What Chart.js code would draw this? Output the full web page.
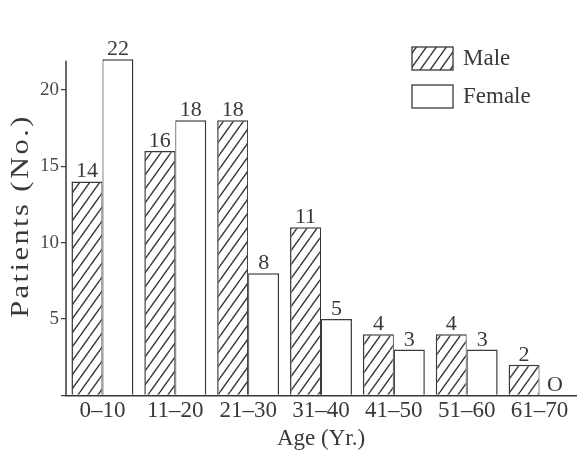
<!DOCTYPE html>
<html>
<head>
<meta charset="utf-8">
<script src="https://cdn.jsdelivr.net/npm/chart.js@4/dist/chart.umd.min.js"></script>
<style>
html, body { margin:0; padding:0; background:#fff; }
</style>
</head>
<body>
<canvas id="ages" width="581" height="452"></canvas>
<script>
var ageGroups = ['0–10','11–20','21–30','31–40','41–50','51–60','61–70']
var male = [14,16,18,11,4,4,2]
var female = [22,18,8,5,3,3,0]
var yTicks = [0,5,10,15,20]

var ink = '#393939'
var serif = '"Liberation Serif", "DejaVu Serif", serif'

// diagonal "/" hatch for the male bars
function hatch(){
  var c = document.createElement('canvas')
  c.width = 10; c.height = 14
  var g = c.getContext('2d')
  g.fillStyle = '#fff'
  g.fillRect(0,0,10,14)
  g.strokeStyle = ink
  g.lineWidth = 1.4
  g.beginPath()
  for (var k = -10; k <= 10; k += 10){
    g.moveTo(k, 14); g.lineTo(k + 10, 0)
  }
  g.stroke()
  return g.createPattern(c, 'repeat')
}
var maleFill = hatch()

var valueLabels = {
  id: 'valueLabels',
  afterDatasetsDraw(chart){
    var ctx = chart.ctx
    ctx.save()
    ctx.font = '22px ' + serif
    ctx.fillStyle = ink
    ctx.textAlign = 'center'
    ctx.textBaseline = 'alphabetic'
    chart.data.datasets.forEach(function(ds, i){
      chart.getDatasetMeta(i).data.forEach(function(bar, j){
        var v = ds.data[j]
        ctx.fillText(v === 0 ? 'O' : String(v), bar.x, bar.y - 4)
      })
    })
    ctx.restore()
  }
}

// short y axis line, rotated (tall) y title and the boxed legend
var extras = {
  id: 'extras',
  afterDraw(chart){
    var ctx = chart.ctx
    var area = chart.chartArea
    var y = chart.scales.y
    ctx.save()
    ctx.strokeStyle = ink
    ctx.lineWidth = 1.5
    ctx.beginPath()
    ctx.moveTo(area.left, y.getPixelForValue(0))
    ctx.lineTo(area.left, y.getPixelForValue(21.9))
    ctx.stroke()

    ctx.save()
    ctx.translate(21, 216)
    ctx.rotate(-Math.PI / 2)
    ctx.scale(1.22, 1)
    ctx.font = '25px ' + serif
    ctx.letterSpacing = '2px'
    ctx.fillStyle = ink
    ctx.textAlign = 'center'
    ctx.textBaseline = 'middle'
    ctx.fillText('Patients (No.)', 0, 0)
    ctx.restore()

    ctx.font = '23px ' + serif
    ctx.textBaseline = 'middle'
    ctx.textAlign = 'left'
    chart.data.datasets.forEach(function(ds, i){
      var top = 47 + i * 38
      ctx.fillStyle = ds.backgroundColor
      ctx.fillRect(412, top, 41, 23)
      ctx.lineWidth = 1.3
      ctx.strokeRect(412, top, 41, 23)
      ctx.fillStyle = ink
      ctx.fillText(ds.label, 463, top + 12)
    })
    ctx.restore()
  }
}

var ctx = document.getElementById('ages').getContext('2d')

var barChart = new Chart(ctx, {
  type: 'bar',
  data: {
    labels: ageGroups,
    datasets: [{
      label: 'Male',
      data: male,
      backgroundColor: maleFill,
      borderColor: ink,
      borderWidth: {top:1.5, left:1.5, right:1.1, bottom:0},
      borderSkipped: false
    },{
      label: 'Female',
      data: female,
      backgroundColor: '#ffffff',
      borderColor: ink,
      borderWidth: {top:1.5, left:1.1, right:1.5, bottom:0},
      borderSkipped: false
    }]
  },
  options: {
    responsive: false,
    devicePixelRatio: 1,
    animation: false,
    layout: { padding: {top: 0, right: 5, bottom: 0, left: 38} },
    datasets: { bar: { barPercentage: 1.0, categoryPercentage: 0.85 } },
    plugins: { legend: {display: false}, tooltip: {enabled: false} },
    scales: {
      x: {
        grid: {display: false, drawTicks: false},
        border: {display: true, color: ink, width: 1.5},
        ticks: {color: ink, font: {family: serif, size: 23, lineHeight: 1.1}, padding: 3},
        title: {display: true, text: 'Age (Yr.)', color: ink,
                font: {family: serif, size: 23, lineHeight: 1.1}, padding: {top: 0, bottom: 0}}
      },
      y: {
        min: 0,
        max: 25,
        afterBuildTicks: function(axis){
          axis.ticks = yTicks.map(function(v){ return {value: v} })
        },
        grid: {display: true, drawOnChartArea: false, drawTicks: true, tickLength: 5, color: ink, lineWidth: 1.2},
        border: {display: false},
        ticks: {
          color: '#4a4a4a',
          font: {family: serif, size: 19},
          padding: 2,
          callback: function(v){ return v === 0 ? '' : v }
        },
        title: {display: false}
      }
    }
  },
  plugins: [valueLabels, extras]
})
</script>
</body>
</html>
